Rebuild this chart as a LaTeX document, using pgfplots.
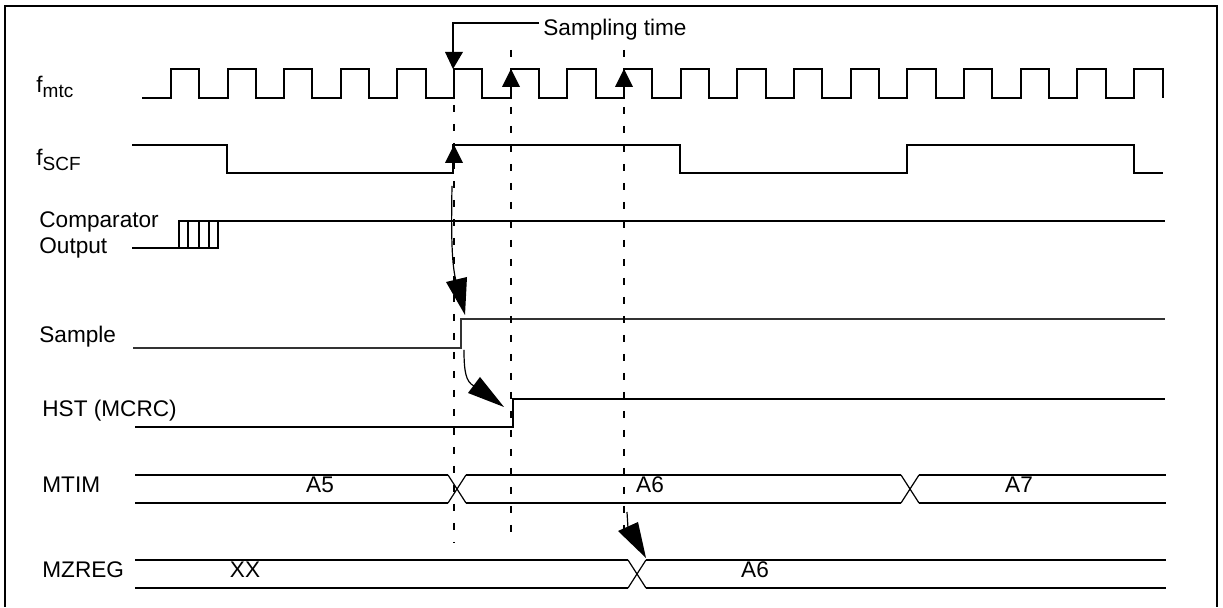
\documentclass[border=0pt]{standalone}
\usepackage{pgfplots}
\pgfplotsset{compat=1.18}
\usepackage{fontspec}
\setmainfont{Liberation Sans}
\usetikzlibrary{arrows.meta}
\newcommand\lf{\fontsize{11.3}{13}\selectfont}
\newcommand\sub[1]{\raisebox{-2.3pt}{\fontsize{9.5}{10}\selectfont #1}}
\begin{document}
\begin{tikzpicture}
\begin{axis}[width=611.5pt,height=303.5pt,scale only axis,
  xmin=0,xmax=1223,ymin=0,ymax=607,y dir=reverse,hide axis,clip=false,
  sig/.style={black,line width=1.1pt,mark=none,sharp plot,line join=miter},
  thn/.style={black,line width=0.6pt,mark=none,sharp plot}]
\path (axis cs:0,0) rectangle (axis cs:1223,607);
% frame
\draw[line width=1pt] (axis cs:5,607) -- (axis cs:5,6) -- (axis cs:1217,6) -- (axis cs:1217,607);
% f_mtc clock
\addplot[sig] coordinates {(142,98)(171,98)(171,69)(199,69)(199,98)(228,98)(228,69)(256,69)(256,98)(284,98)(284,69)(312,69)(312,98)(341,98)(341,69)(369,69)(369,98)(397,98)(397,69)(426,69)(426,98)(454,98)(454,69)(482,69)(482,98)(511,98)(511,69)(539,69)(539,98)(567,98)(567,69)(596,69)(596,98)(624,98)(624,69)(652,69)(652,98)(681,98)(681,69)(709,69)(709,98)(737,98)(737,69)(766,69)(766,98)(794,98)(794,69)(822,69)(822,98)(851,98)(851,69)(879,69)(879,98)(907,98)(907,69)(936,69)(936,98)(964,98)(964,69)(992,69)(992,98)(1021,98)(1021,69)(1049,69)(1049,98)(1077,98)(1077,69)(1106,69)(1106,98)(1134,98)(1134,69)(1163,69)(1163,98)};
% f_SCF
\addplot[sig] coordinates {(132,145)(227,145)(227,173)(453,173)(453,145)(680,145)(680,173)(907,173)(907,145)(1134,145)(1134,173)(1163,173)};
% Comparator output
\addplot[sig] coordinates {(132,248)(218,248)(218,221)};
\addplot[sig] coordinates {(179,248)(179,221)(1165,221)};
\addplot[sig] coordinates {(188,248)(188,221)};
\addplot[sig] coordinates {(199,248)(199,221)};
\addplot[sig] coordinates {(209,248)(209,221)};
% Sample
\addplot[black!80,line width=0.8pt,mark=none] coordinates {(133,348)(461,348)(461,319)(1165,319)};
% HST
\addplot[sig] coordinates {(135,427)(513,427)(513,399)(1165,399)};
% MTIM
\addplot[sig] coordinates {(135,475)(448,475)};
\addplot[sig] coordinates {(135,503)(448,503)};
\addplot[sig] coordinates {(466,475)(901,475)};
\addplot[sig] coordinates {(466,503)(901,503)};
\addplot[sig] coordinates {(919,475)(1166,475)};
\addplot[sig] coordinates {(919,503)(1166,503)};
\addplot[thn] coordinates {(448,475)(466,503)};
\addplot[thn] coordinates {(448,503)(466,475)};
\addplot[thn] coordinates {(901,475)(919,503)};
\addplot[thn] coordinates {(901,503)(919,475)};
% MZREG
\addplot[sig] coordinates {(135,560)(628,560)};
\addplot[sig] coordinates {(135,588)(628,588)};
\addplot[sig] coordinates {(646,560)(1166,560)};
\addplot[sig] coordinates {(646,588)(1166,588)};
\addplot[thn] coordinates {(628,560)(646,588)};
\addplot[thn] coordinates {(628,588)(646,560)};
% dashed lines
\draw[line width=1pt,dash pattern=on 3.5pt off 6pt] (axis cs:454,105) -- (axis cs:454,543);
\draw[line width=1pt,dash pattern=on 3.5pt off 6pt] (axis cs:511,50) -- (axis cs:511,543);
\draw[line width=1pt,dash pattern=on 3.5pt off 6pt] (axis cs:624,50) -- (axis cs:624,543);
% sampling time callout
\draw[line width=1pt] (axis cs:539,23) -- (axis cs:453,23) -- (axis cs:453,53);
\fill (axis cs:445,52) -- (axis cs:463,52) -- (axis cs:453,69) -- cycle;
\fill (axis cs:502,87) -- (axis cs:520,87) -- (axis cs:511,69) -- cycle;
\fill (axis cs:615,87) -- (axis cs:633,87) -- (axis cs:624,69) -- cycle;
\fill (axis cs:445,163) -- (axis cs:463,163) -- (axis cs:454,145) -- cycle;
% curved arrows
\draw[line width=0.6pt] (axis cs:452,186) .. controls (axis cs:451,240) and (axis cs:452,265) .. (axis cs:456,281);
\fill (axis cs:446,282) -- (axis cs:467,277) -- (axis cs:465,315) -- cycle;
\draw[line width=0.6pt] (axis cs:464,350) .. controls (axis cs:464,372) and (axis cs:466,382) .. (axis cs:474,386);
\fill (axis cs:468,393) -- (axis cs:480,377) -- (axis cs:504,407) -- cycle;
\draw[line width=0.6pt] (axis cs:627,512) -- (axis cs:628,528);
\fill (axis cs:618,531) -- (axis cs:638,522) -- (axis cs:646,558) -- cycle;
% labels
\node[anchor=base west,font=\lf,inner sep=0pt] at (axis cs:543,36) {Sampling time};
\node[anchor=base west,font=\lf,inner sep=0pt] at (axis cs:36,93) {f\sub{mtc}};
\node[anchor=base west,font=\lf,inner sep=0pt] at (axis cs:36,166) {f\sub{SCF}};
\node[anchor=base west,font=\lf,inner sep=0pt] at (axis cs:39,228) {Comparator};
\node[anchor=base west,font=\lf,inner sep=0pt] at (axis cs:39,254) {Output};
\node[anchor=base west,font=\lf,inner sep=0pt] at (axis cs:39,343) {Sample};
\node[anchor=base west,font=\lf,inner sep=0pt] at (axis cs:42,417) {HST (MCRC)};
\node[anchor=base west,font=\lf,inner sep=0pt] at (axis cs:42,493) {MTIM};
\node[anchor=base west,font=\lf,inner sep=0pt] at (axis cs:42,578) {MZREG};
\node[anchor=base,font=\lf,inner sep=0pt] at (axis cs:320,493) {A5};
\node[anchor=base,font=\lf,inner sep=0pt] at (axis cs:650,493) {A6};
\node[anchor=base,font=\lf,inner sep=0pt] at (axis cs:1019,493) {A7};
\node[anchor=base,font=\lf,inner sep=0pt] at (axis cs:245,578) {XX};
\node[anchor=base,font=\lf,inner sep=0pt] at (axis cs:755,578) {A6};
\end{axis}
\end{tikzpicture}
\end{document}
